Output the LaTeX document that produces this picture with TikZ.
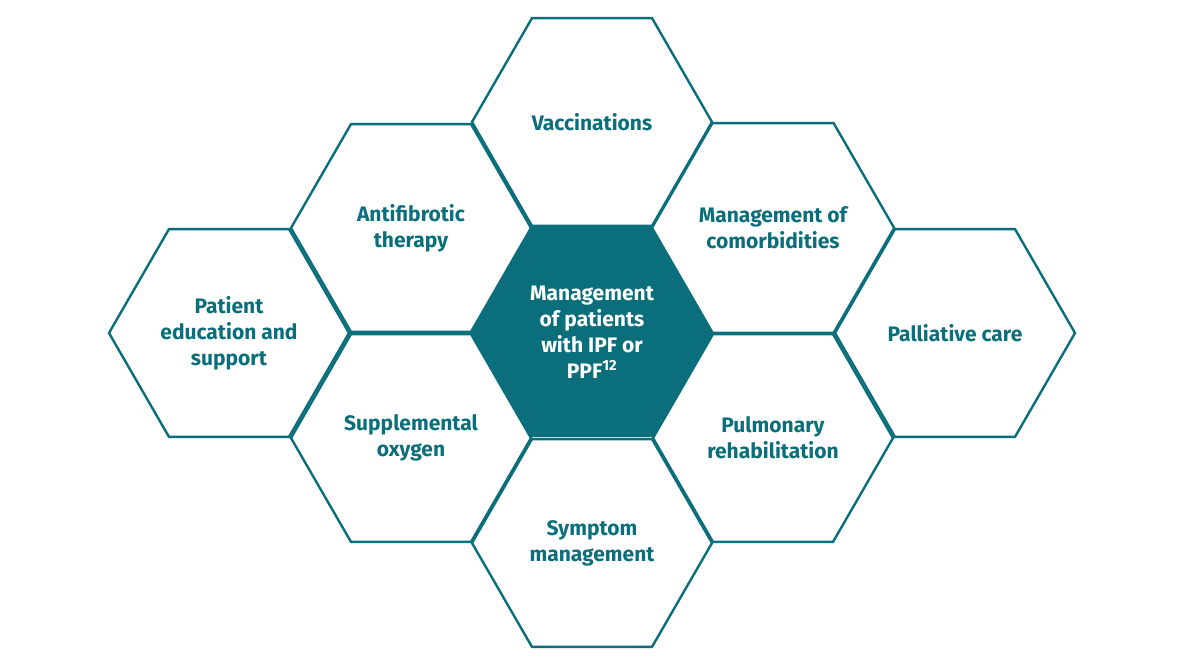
\documentclass[tikz,border=0pt]{standalone}
\usepackage{fontspec}
\setmainfont{Fira Sans}
\usetikzlibrary{shapes.geometric}
\definecolor{teal1}{HTML}{0B6E7B}
\begin{document}
\begin{tikzpicture}[x=1pt,y=-1pt,
  hexa/.style={shape=regular polygon,regular polygon sides=6,minimum size=240pt,inner sep=0pt,
    draw=teal1,line width=2.4pt,align=center,text=teal1,font=\fontsize{21}{26}\selectfont\bfseries},
  hexc/.style={hexa,fill=teal1,text=white}]
\useasboundingbox (0,0) rectangle (1184,666);
\node[hexa] (vac) at (592,122) {Vaccinations};
\node[hexa] (anti) at (411,228) {Antifibrotic\\therapy};
\node[hexa] (como) at (773,228) {Management of\\comorbidities};
\node[hexa] (edu) at (229,333) {Patient\\education and\\support};
\node[hexa] (pall) at (955,333) {Palliative care};
\node[hexa] (oxy) at (411,438) {Supplemental\\oxygen};
\node[hexa] (pulm) at (773,438) {Pulmonary\\rehabilitation};
\node[hexa] (sym) at (592,543) {Symptom\\management};
\node[hexc] (ctr) at (592,332) {Management\\of patients\\with IPF or\\PPF\textsuperscript{12}};
\end{tikzpicture}
\end{document}
